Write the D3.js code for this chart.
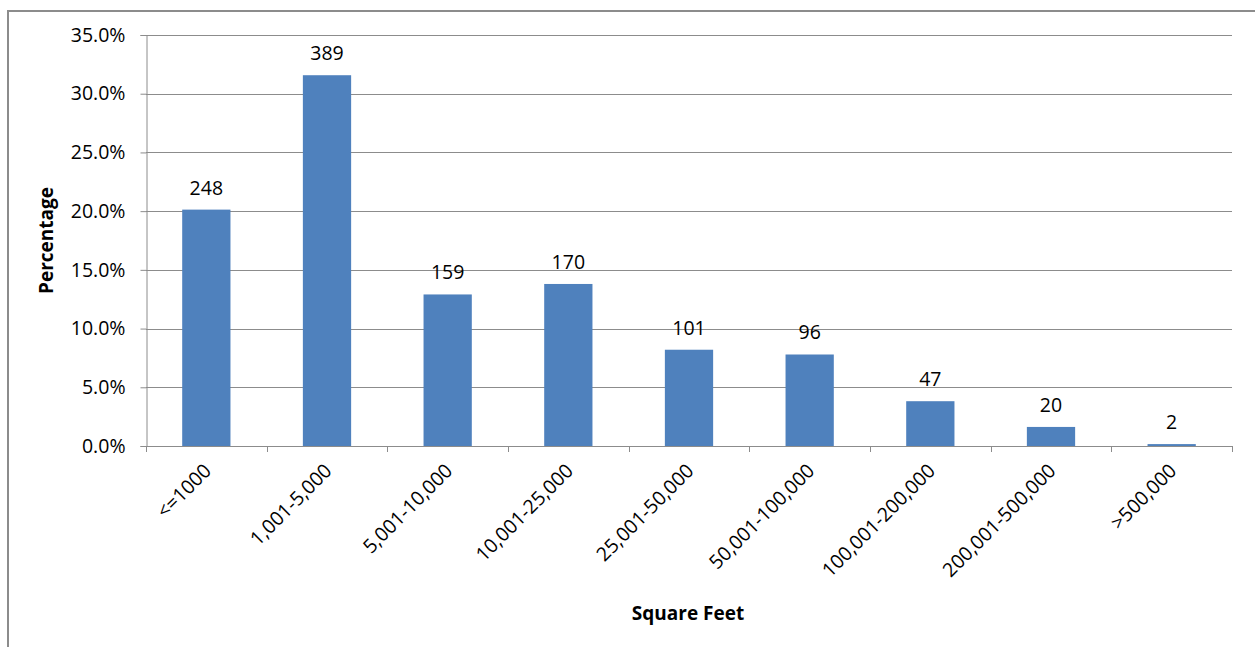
<!DOCTYPE html>
<html>
<head>
<meta charset="utf-8">
<script src="https://cdn.jsdelivr.net/npm/d3@7/dist/d3.min.js"></script>
<style>
  html, body { margin: 0; padding: 0; background: #fff; }
  svg { display: block; }
  text { font-family: "Open Sans", sans-serif; fill: #000; }
</style>
</head>
<body>
<svg id="chart" width="1255" height="647"></svg>
<script>
// Building size ranges (square feet) and number of buildings in each
const categories = ["<=1000", "1,001-5,000", "5,001-10,000", "10,001-25,000", "25,001-50,000",
                    "50,001-100,000", "100,001-200,000", "200,001-500,000", ">500,000"];
const counts = [248, 389, 159, 170, 101, 96, 47, 20, 2];
const yTicks = [0, 0.05, 0.10, 0.15, 0.20, 0.25, 0.30, 0.35];

const total = d3.sum(counts);
const shares = counts.map(c => c / total);

const svg = d3.select("#chart");
const margin = { left: 146, top: 35, right: 1232, bottom: 446 };
const labelSize = 19.5;

// outer frame
svg.append("path")
  .attr("d", `M8,${647 + 5} L8,11 L${1255 + 5},11`)
  .attr("fill", "none").attr("stroke", "#8c8c8c").attr("stroke-width", 2);

const x = d3.scaleBand().domain(categories).range([margin.left, margin.right]).paddingInner(0.6).paddingOuter(0.3);
const xEdge = d3.scaleLinear().domain([0, categories.length]).range([margin.left, margin.right]);
const y = d3.scaleLinear().domain([0, 0.35]).range([margin.bottom, margin.top]);

// horizontal gridlines
svg.append("g").selectAll("line").data(yTicks.slice(1)).join("line")
  .attr("x1", margin.left).attr("x2", margin.right)
  .attr("y1", d => Math.round(y(d)) + 0.5).attr("y2", d => Math.round(y(d)) + 0.5)
  .attr("stroke", "#8c8c8c").attr("stroke-width", 1);

// y axis
const yAxis = svg.append("g").attr("transform", `translate(${margin.left + 0.5},0)`)
  .call(d3.axisLeft(y).tickValues(yTicks).tickFormat(d3.format(".1%")).tickSizeOuter(0).tickSize(6).tickPadding(15));
yAxis.select(".domain").attr("stroke", "#8c8c8c");
yAxis.selectAll(".tick line").attr("stroke", "#8c8c8c");
yAxis.selectAll(".tick text").attr("font-size", labelSize).attr("font-family", "Open Sans").attr("fill", "#000");

// bars
svg.append("g").selectAll("rect").data(categories).join("rect")
  .attr("x", d => x(d))
  .attr("width", x.bandwidth())
  .attr("y", (d, i) => y(shares[i]))
  .attr("height", (d, i) => y(0) - y(shares[i]))
  .attr("fill", "#4f81bd");

// count labels above bars
svg.append("g").selectAll("text").data(categories).join("text")
  .attr("x", d => x(d) + x.bandwidth() / 2)
  .attr("y", (d, i) => y(shares[i]) - 15)
  .attr("text-anchor", "middle")
  .attr("font-size", labelSize)
  .text((d, i) => counts[i]);

// x axis line and tick marks at category boundaries
const xg = svg.append("g");
xg.append("line").attr("x1", margin.left).attr("x2", margin.right)
  .attr("y1", margin.bottom + 0.5).attr("y2", margin.bottom + 0.5)
  .attr("stroke", "#8c8c8c");
xg.selectAll("line.tk").data(d3.range(categories.length + 1)).join("line")
  .attr("class", "tk")
  .attr("x1", d => Math.round(xEdge(d)) + 0.5).attr("x2", d => Math.round(xEdge(d)) + 0.5)
  .attr("y1", margin.bottom).attr("y2", margin.bottom + 6)
  .attr("stroke", "#8c8c8c");

// rotated category labels
xg.selectAll("text").data(categories).join("text")
  .attr("transform", d => `translate(${x(d) + x.bandwidth() / 2 + 6},${margin.bottom + 26}) rotate(-45)`)
  .attr("text-anchor", "end")
  .attr("font-size", labelSize)
  .text(d => d);

// axis titles
svg.append("text")
  .attr("x", (margin.left + margin.right) / 2 - 1).attr("y", 620)
  .attr("text-anchor", "middle").attr("font-size", 19).attr("font-weight", "bold")
  .text("Square Feet");
svg.append("text")
  .attr("transform", `translate(53,${(margin.top + margin.bottom) / 2}) rotate(-90)`)
  .attr("text-anchor", "middle").attr("font-size", 19).attr("font-weight", "bold")
  .text("Percentage");
</script>
</body>
</html>
